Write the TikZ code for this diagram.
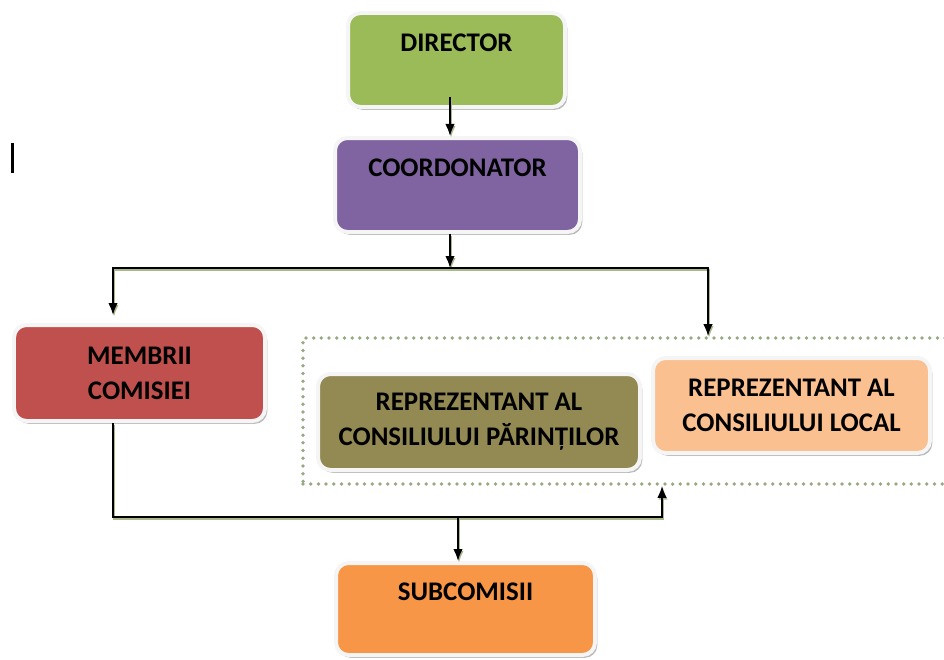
\documentclass[tikz,border=0pt]{standalone}
\usepackage{fontspec}
\setmainfont{Carlito}
\usetikzlibrary{arrows.meta,shadows}

\definecolor{dirgreen}{HTML}{9BBB59}
\definecolor{coordpurple}{HTML}{8064A2}
\definecolor{membred}{HTML}{C0504D}
\definecolor{parolive}{HTML}{938953}
\definecolor{locpeach}{HTML}{FAC090}
\definecolor{suborange}{HTML}{F79646}
\definecolor{linegreen}{HTML}{A9B88C}
\definecolor{dotgreen}{HTML}{95A983}

\newcommand\boxfont{\fontsize{15.3}{19.8}\selectfont\bfseries}

\tikzset{
  orgbox/.style={draw=gray!8, line width=0.08cm, rounded corners=0.25cm,
    align=center, inner sep=0pt, font=\boxfont,
    drop shadow={shadow xshift=1.3pt, shadow yshift=-1.6pt, opacity=0.45, fill=black!60}},
  conn/.style={line width=0.035cm,
    preaction={draw=linegreen, line width=0.04cm, transform canvas={xshift=0.6pt, yshift=-1pt}}},
  arr/.style={conn, -{Latex[length=0.24cm,width=0.19cm]}},
  grupbox/.style={draw=dotgreen, line width=0.075cm, line cap=round,
    dash pattern=on 0pt off 0.154cm, inner sep=0pt}
}

\begin{document}
\begin{tikzpicture}
  \useasboundingbox (0,0) rectangle (18.88,13.18);

  % cursor mark at the left
  \draw[line width=0.06cm] (0.24,10.32) -- (0.24,9.72);

  % dotted group
  \node[grupbox, minimum width=13.2cm, minimum height=2.92cm] (grup) at (12.66,4.96) {};

  \node[orgbox, fill=dirgreen, minimum width=4.34cm, minimum height=1.88cm] (dir) at (9.13,11.98) {DIRECTOR\\~};
  \node[orgbox, fill=coordpurple, minimum width=4.90cm, minimum height=1.88cm] (coord) at (9.15,9.48) {COORDONATOR\\~};
  \node[orgbox, fill=membred, minimum width=5.02cm, minimum height=1.92cm] (membrii) at (2.79,5.72) {MEMBRII\\COMISIEI};
  \node[orgbox, fill=parolive, minimum width=6.44cm, minimum height=1.92cm] (parinti) at (9.58,4.74) {REPREZENTANT AL\\CONSILIULUI PĂRINȚILOR};
  \node[orgbox, fill=locpeach, minimum width=5.54cm, minimum height=1.90cm] (local) at (15.83,5.07) {REPREZENTANT AL\\CONSILIULUI LOCAL};
  \node[orgbox, fill=suborange, minimum width=5.18cm, minimum height=1.84cm] (subcom) at (9.31,1.00) {SUBCOMISII\\~};

  % connectors
  \coordinate (split) at (9.00,7.82);
  \coordinate (merge) at (9.16,2.84);
  \draw[arr] ([shift={(-0.13,0.24)}]dir.south) -- ([xshift=-0.15cm]coord.north);
  \draw[arr] ([xshift=-0.15cm]coord.south) -- (split);
  \draw[arr, shorten >=0.16cm] (split) -| ([xshift=-0.53cm]membrii.north);
  \draw[arr] (split) -| ([xshift=1.5cm]grup.north);
  \draw[conn] ([xshift=-0.53cm]membrii.south) |- (merge);
  \draw[arr] (merge) -| ([xshift=0.58cm]grup.south);
  \draw[arr] (merge) -- ([xshift=-0.15cm]subcom.north);
\end{tikzpicture}
\end{document}
